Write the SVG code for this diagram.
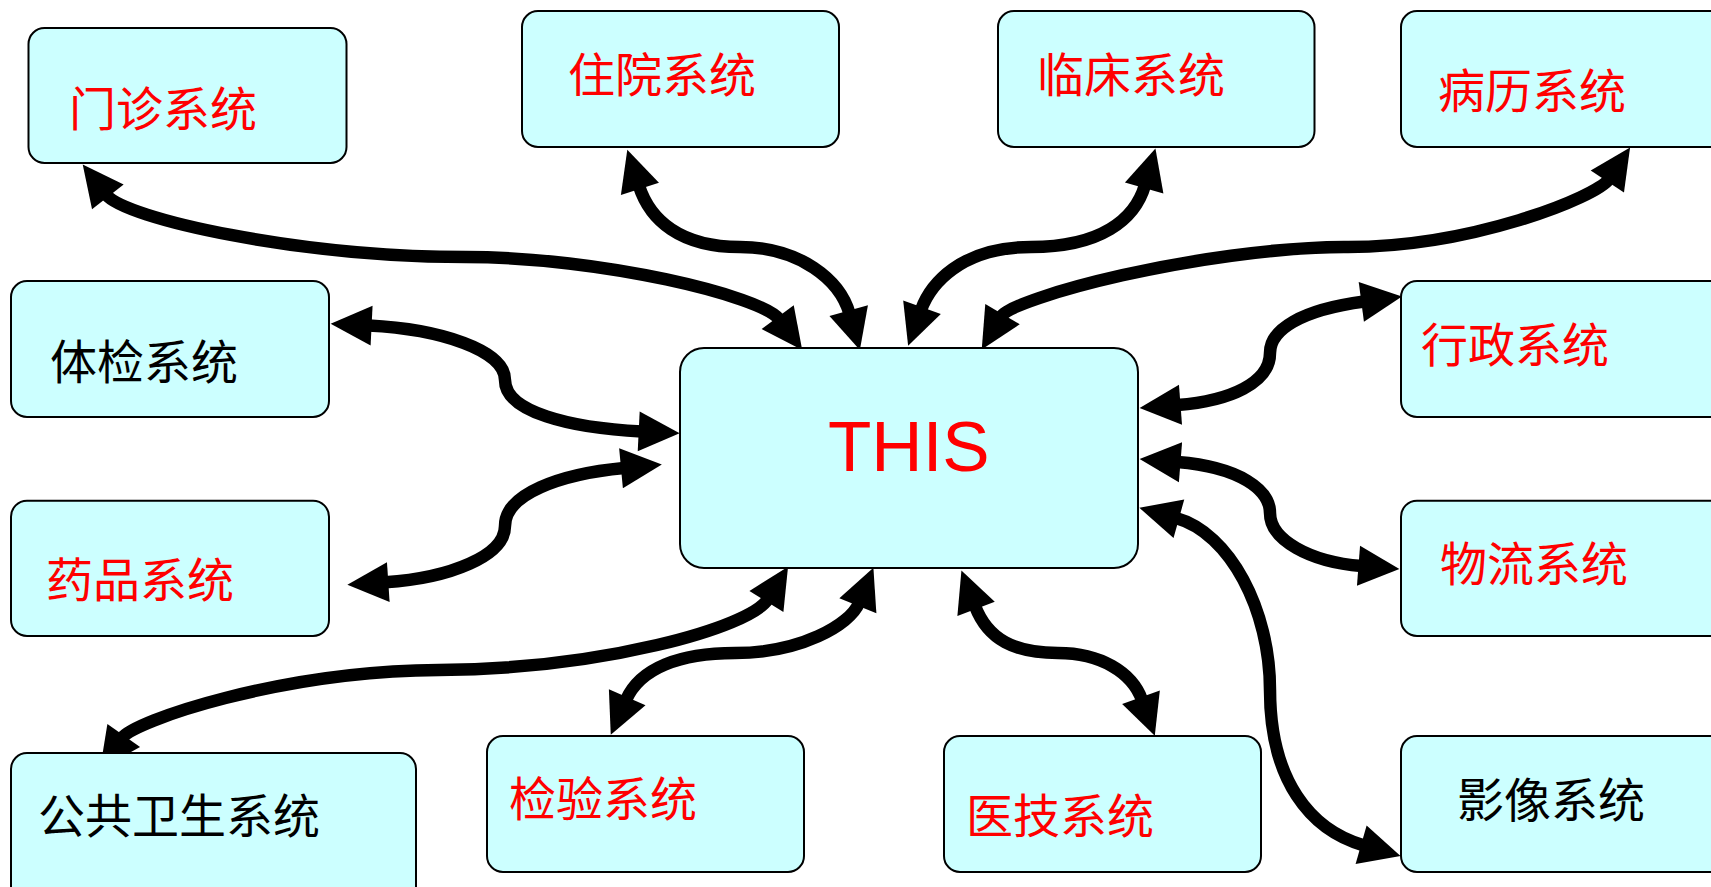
<svg xmlns="http://www.w3.org/2000/svg" width="1711" height="887" viewBox="0 0 1711 887">
<defs>
<style>
.box{fill:#ccffff;stroke:#000;stroke-width:2}
.lbl{font-family:"Noto Sans CJK SC","Noto Sans CJK TC",sans-serif;font-size:47px;dominant-baseline:central}
.red{fill:#ff0000}
.blk{fill:#000}
.con{fill:none;stroke:#000;stroke-width:12.5;marker-start:url(#ah);marker-end:url(#ah)}
</style>
<marker id="ah" markerUnits="userSpaceOnUse" markerWidth="46" markerHeight="44" refX="3" refY="21" orient="auto-start-reverse" overflow="visible">
<path d="M0,1 L41,21 L0,41 z" fill="#000"/>
</marker>
</defs>
<rect width="1711" height="887" fill="#fff"/>

<g id="connectors">
<path class="con" d="M106,194.5 C125,219 300,257 466,257 C600,257 762,296 779.5,319.5"/>
<path class="con" d="M639,186 C650,220 680,247 740,247 C800,247 840,280 849.5,313.5"/>
<path class="con" d="M1145,185 C1135,220 1100,247 1031,247 C960,247 930,285 921,310"/>
<path class="con" d="M1609,179 C1597,197 1470,248 1344,247 C1200,248 1012,298 1001,316.7"/>
<path class="con" d="M368.6,325.5 C440,329 505,350 505,380 C505,412 570,428 641.7,431.5"/>
<path class="con" d="M385.3,582.3 C450,578 505,556 505,526 C505,494 560,474 624,468"/>
<path class="con" d="M122,738 C134,721 280,671 439,670 C600,669 750,628 768,599"/>
<path class="con" d="M626,700 C640,668 680,653 735,653 C800,653 850,625 859,603"/>
<path class="con" d="M975,606 C988,640 1015,653 1058,653 C1100,653 1132,672 1142,700"/>
<path class="con" d="M1177.5,462 C1240,467 1270,490 1270,513 C1270,540 1310,562 1361.5,566"/>
<path class="con" d="M1176,518 C1230,533 1270,610 1270,690 C1270,780 1310,830 1364,845.5"/>
<path class="con" d="M1364.3,301.5 C1300,310 1270,330 1270,353 C1270,383 1230,401 1177.5,405"/>
</g>

<g id="this">
<rect class="box" x="680" y="348" width="458" height="220" rx="24"/>
<text x="828" y="471" font-family="'Liberation Sans',Arial,sans-serif" font-size="71" fill="#ff0000">THIS</text>
</g>
<g id="menzhen">
<rect class="box" x="28.5" y="28" width="318" height="135" rx="16"/>
<text class="lbl red" x="69" y="105">门诊系统</text>
</g>
<g id="zhuyuan">
<rect class="box" x="522" y="11" width="317" height="136" rx="16"/>
<text class="lbl red" x="568" y="71">住院系统</text>
</g>
<g id="linchuang">
<rect class="box" x="998" y="11" width="316.5" height="136" rx="16"/>
<text class="lbl red" x="1037" y="71">临床系统</text>
</g>
<g id="bingli">
<rect class="box" x="1401" y="11" width="400" height="136" rx="16"/>
<text class="lbl red" x="1438" y="87.5">病历系统</text>
</g>
<g id="tijian">
<rect class="box" x="11" y="281" width="318" height="136" rx="16"/>
<text class="lbl blk" x="50" y="358.5">体检系统</text>
</g>
<g id="xingzheng">
<rect class="box" x="1401" y="281" width="400" height="136" rx="16"/>
<text class="lbl red" x="1421" y="341">行政系统</text>
</g>
<g id="yaopin">
<rect class="box" x="11" y="500.7" width="318" height="135.3" rx="16"/>
<text class="lbl red" x="46" y="576.5">药品系统</text>
</g>
<g id="wuliu">
<rect class="box" x="1401" y="500.7" width="400" height="135.3" rx="16"/>
<text class="lbl red" x="1440" y="560">物流系统</text>
</g>
<g id="gonggongweisheng">
<rect class="box" x="11" y="753" width="405" height="200" rx="16"/>
<text class="lbl blk" x="38" y="812">公共卫生系统</text>
</g>
<g id="jianyan">
<rect class="box" x="487" y="736" width="317" height="136" rx="16"/>
<text class="lbl red" x="509" y="795">检验系统</text>
</g>
<g id="yiji">
<rect class="box" x="944" y="736" width="317" height="136" rx="16"/>
<text class="lbl red" x="966" y="812">医技系统</text>
</g>
<g id="yingxiang">
<rect class="box" x="1401" y="736" width="400" height="136" rx="16"/>
<text class="lbl blk" x="1457" y="796">影像系统</text>
</g>
</svg>
